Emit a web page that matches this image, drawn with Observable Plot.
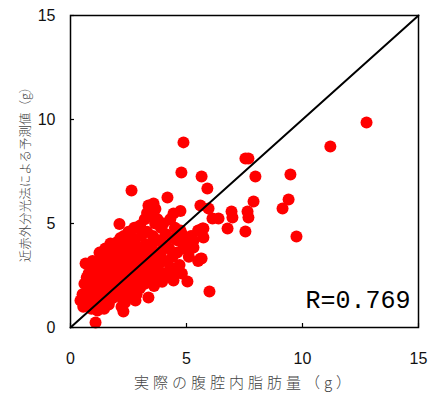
<!DOCTYPE html>
<html>
<head>
<meta charset="utf-8">
<script src="https://cdn.jsdelivr.net/npm/d3@7"></script>
<script src="https://cdn.jsdelivr.net/npm/@observablehq/plot@0.6"></script>
<style>
  html, body { margin: 0; padding: 0; background: #fff; }
  #chart svg { display: block; }
</style>
</head>
<body>
<div id="chart"></div>
<script>
// Actual abdominal fat (g) vs NIR-predicted value (g)
const actual = [
  0.43,0.52,0.6,0.65,0.55,0.7,0.7,0.78,0.6,
  0.86,0.9,0.95,0.85,1.0,1.0,0.9,1.0,0.95,
  1.08,1.16,1.1,1.2,1.25,1.2,1.3,1.15,1.3,1.25,1.3,1.2,
  1.4,1.4,1.45,1.5,1.5,1.55,1.6,1.35,1.6,1.5,1.45,1.6,
  1.7,1.72,1.7,1.75,1.8,1.8,1.85,1.9,1.65,1.9,1.85,1.75,
  2.0,2.0,2.05,2.11,2.1,2.15,2.2,2.0,2.2,2.1,2.2,1.95,2.15,
  2.28,2.3,2.3,2.35,2.4,2.4,2.45,2.46,2.5,2.3,2.5,2.35,2.45,2.5,
  2.6,2.63,2.6,2.65,2.7,2.7,2.75,2.8,2.55,2.8,2.75,2.6,2.8,
  2.9,2.9,3.0,3.0,3.05,3.1,2.95,3.1,3.0,2.85,3.1,
  3.2,3.2,3.25,3.3,3.36,3.36,3.3,3.4,3.2,3.35,3.4,3.3,
  3.5,3.5,3.55,3.58,3.6,3.6,3.65,3.7,3.5,3.7,3.66,
  3.8,3.8,3.85,3.9,3.9,4.0,4.0,3.75,4.0,3.95,
  4.1,4.18,4.1,4.2,4.25,4.3,4.3,4.4,4.44,4.4,4.5,4.5,4.44,
  4.6,4.6,4.7,4.74,4.8,4.9,4.87,4.78,5.0,4.8,4.74,4.87,
  5.04,5.1,5.2,5.3,5.5,5.5,5.6,5.65,5.6,5.65,5.73,5.2,5.69,5.73,5.6,5.3,
  5.9,5.95,5.99,6.12,6.38,6.77,6.94,6.98,7.54,7.67,7.63,7.67,7.54,7.97,7.89,
  9.14,9.4,9.48,9.74,11.2,12.76
];
const predicted = [
  1.3,1.6,2.1,3.08,1.0,1.5,2.4,2.6,1.2,
  1.78,2.2,2.8,1.1,1.4,2.0,0.9,2.5,3.2,
  0.24,0.82,1.2,1.7,3.6,2.3,2.9,3.1,1.4,2.0,2.6,1.0,
  1.8,2.4,3.0,3.4,1.2,2.1,2.7,3.3,1.6,3.8,0.9,3.1,
  2.0,4.04,2.6,3.2,1.4,3.6,2.3,2.9,1.1,1.8,3.9,1.7,
  2.2,3.0,3.5,4.98,1.5,2.6,3.2,4.1,1.9,3.8,1.0,2.6,4.3,
  0.77,2.3,2.9,3.6,1.6,4.0,2.6,1.44,3.3,4.4,2.0,1.2,3.9,4.6,
  2.4,6.59,3.0,3.7,1.8,4.2,2.8,3.4,1.5,2.2,4.8,4.4,1.3,
  2.6,3.9,3.1,1.9,4.4,2.4,3.5,3.7,4.9,1.6,2.9,
  2.1,3.3,4.0,2.7,1.44,5.87,4.6,3.0,5.2,3.6,2.3,5.5,
  2.6,3.9,4.4,5.96,3.2,2.0,5.0,2.8,5.4,3.6,5.7,
  2.4,4.2,3.1,4.8,3.6,2.6,5.0,5.2,4.0,2.2,
  3.2,6.25,4.5,2.5,3.8,5.2,2.9,4.3,2.26,3.4,4.8,2.7,5.48,
  3.6,4.2,3.0,5.6,4.5,3.8,8.9,7.45,4.2,2.6,4.66,3.85,
  2.21,3.4,4.4,4.18,3.2,4.66,4.66,3.32,5.87,7.26,4.76,3.8,4.76,4.33,3.3,3.85,
  6.68,5.72,1.73,5.24,5.24,4.76,5.58,5.29,8.12,8.12,5.58,5.29,4.62,7.26,6.06,
  5.72,6.15,7.36,4.38,8.7,9.86
];
const points = actual.map((a, i) => ({actual: a, predicted: predicted[i]}));

const ticks = [0, 5, 10, 15];
const identity = [0, 15];
const xLabel = "実際の腹腔内脂肪量（g）";
const yLabel = "近赤外分光法による予測値（g）";
const rLabel = "R=0.769";

const chart = Plot.plot({
  width: 431,
  height: 397,
  marginLeft: 70,
  marginRight: 13,
  marginTop: 15,
  marginBottom: 70,
  style: {fontFamily: "'Liberation Sans', Arial, sans-serif", background: "#fff"},
  x: {domain: [0, 15]},
  y: {domain: [0, 15]},
  marks: [
    Plot.dot(points, {x: "actual", y: "predicted", r: 6, fill: "#ff0000", stroke: "none"}),
    Plot.line(identity, {x: d => d, y: d => d, stroke: "#000", strokeWidth: 2}),
    Plot.frame({stroke: "#000", strokeWidth: 1.5}),
    Plot.axisX({ticks, tickSize: -4, tickFormat: () => "", stroke: "#000", strokeWidth: 1.2, label: null}),
    Plot.axisY({ticks, tickSize: -4, tickFormat: () => "", stroke: "#000", strokeWidth: 1.2, label: null}),
    Plot.axisX({ticks, tickSize: 0, tickPadding: 25, fontSize: 16, fill: "#111", label: null}),
    Plot.axisY({ticks, tickSize: 0, tickPadding: 15, fontSize: 16, fill: "#111", label: null}),
    Plot.text([xLabel], {frameAnchor: "bottom", dy: 56, fontSize: 15, fill: "#444", textAnchor: "middle",
      fontFamily: "'Noto Sans CJK JP', sans-serif", fontWeight: 300, lineAnchor: "middle"}),
    Plot.text([yLabel], {frameAnchor: "left", dx: -45, rotate: -90, fontSize: 12.5, fill: "#444", textAnchor: "middle",
      fontFamily: "'Noto Sans CJK JP', sans-serif", fontWeight: 300, lineAnchor: "middle"}),
    Plot.text([rLabel], {frameAnchor: "bottom-right", dx: -8, dy: -20, textAnchor: "end", lineAnchor: "bottom",
      fontSize: 25, fill: "#000", fontFamily: "'Liberation Mono', monospace"})
  ]
});
d3.select(chart).selectAll("text").filter(function () { return this.textContent === xLabel; })
  .attr("letter-spacing", "4px");
document.getElementById("chart").appendChild(chart);
</script>
</body>
</html>
